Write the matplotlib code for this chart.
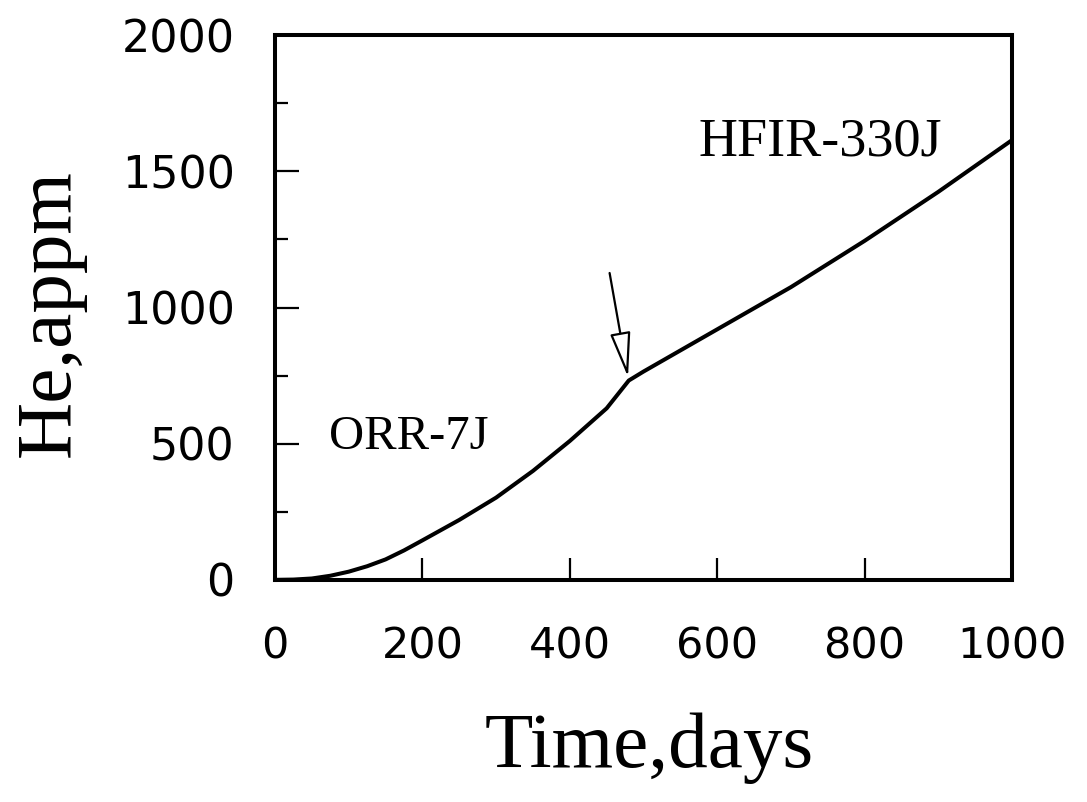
import numpy as np
import matplotlib
matplotlib.use("Agg")
import matplotlib.pyplot as plt
from matplotlib.ticker import MultipleLocator

# He generation vs irradiation time
days = [0, 25, 50, 75, 100, 125, 150, 175, 200, 250, 300, 350, 400,
        450, 480, 500, 600, 700, 800, 900, 1000]
he_appm = [0, 1, 5, 15, 30, 50, 75, 108, 145, 220, 302, 400, 510,
           630, 732, 765, 920, 1075, 1245, 1425, 1615]

x_ticks = [0, 200, 400, 600, 800, 1000]
y_ticks = [0, 500, 1000, 1500, 2000]

# arrow marking the ORR -> HFIR switch
arrow_tail = (454, 1127)
arrow_tip = (479, 745)

serif = "Liberation Serif"
sans = "DejaVu Sans"

fig = plt.figure(figsize=(10.87, 8.02), dpi=100)
ax = fig.add_axes([0.253, 0.277, 0.678, 0.679])

ax.plot(days, he_appm, color="black", lw=2.9, solid_joinstyle="round")

ax.set_xlim(0, 1000)
ax.set_ylim(0, 2000)
ax.set_xticks(x_ticks)
ax.set_yticks(y_ticks)
ax.yaxis.set_minor_locator(MultipleLocator(250))

for s in ax.spines.values():
    s.set_linewidth(2.9)

ax.tick_params(axis="both", which="both", direction="in", width=1.6,
               top=False, right=False)
ax.tick_params(axis="y", which="major", length=17, pad=29)
ax.tick_params(axis="y", which="minor", length=9)
ax.tick_params(axis="x", which="major", length=16, pad=33)
for lab in ax.get_yticklabels():
    lab.set_fontfamily(sans)
    lab.set_fontsize(32)
for lab in ax.get_xticklabels():
    lab.set_fontfamily(sans)
    lab.set_fontsize(31)

ax.set_xlabel("Time,days", fontfamily=serif, fontsize=57)
ax.xaxis.set_label_coords(0.508, -0.31)
ax.xaxis.label.set_va("center")
ax.set_ylabel("He,appm", fontfamily=serif, fontsize=57)
ax.yaxis.set_label_coords(-0.305, 0.49)
ax.yaxis.label.set_va("center")

ax.text(182, 525, "ORR-7J", fontfamily=serif, fontsize=35,
        ha="center", va="center")
ax.text(740, 1607, "HFIR-330J", fontfamily=serif, fontsize=39,
        ha="center", va="center")

ax.annotate("", xy=arrow_tip, xytext=arrow_tail,
            arrowprops=dict(arrowstyle="-|>,head_length=1.4,head_width=0.32",
                            mutation_scale=20, fc="white", ec="black",
                            lw=1.6, shrinkA=0, shrinkB=0))

fig.savefig("out.png", dpi=100)
